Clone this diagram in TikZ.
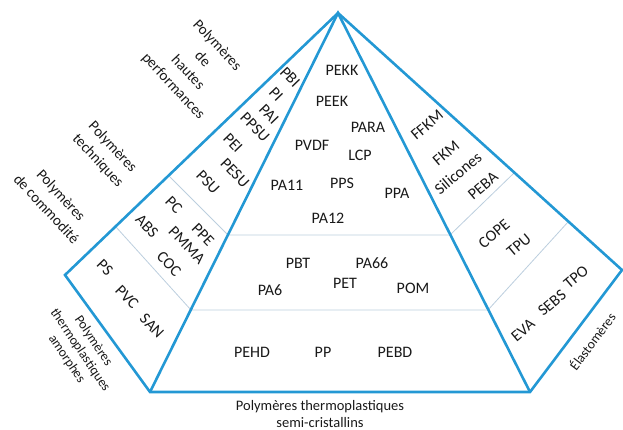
\documentclass[tikz,border=0pt]{standalone}
\usepackage{fontspec}
\setmainfont{Carlito}
\usetikzlibrary{calc}
\definecolor{pyrblue}{RGB}{35,152,212}
\definecolor{pyrthin}{RGB}{188,206,222}
\tikzset{
	frame/.style={draw=pyrblue,line width=2.6pt},
	split/.style={draw=pyrthin,line width=0.8pt},
	poly/.style={inner sep=0pt,text=black!90,font=\fontsize{16}{18}\selectfont},
	lpoly/.style={poly,rotate=-46},
	rpoly/.style={poly,rotate=40},
	family/.style={inner sep=0pt,text=black!90,align=center,font=\fontsize{15}{20}\selectfont}
}
\begin{document}
\begin{tikzpicture}[x=1pt,y=-1pt]
	\useasboundingbox (0,0) rectangle (623,430);
	
	\coordinate (apex) at (338,13);
	\coordinate (lc) at (65,275);
	\coordinate (bl) at (150,392);
	\coordinate (br) at (530,392);
	\coordinate (rc) at (622,270);
	
	\coordinate (a1) at (170,177);
	\coordinate (a2) at (116,227);
	\coordinate (m1) at (228,235);
	\coordinate (m2) at (191,310);
	\coordinate (n1) at (450,235);
	\coordinate (n2) at (488,310);
	\coordinate (e1) at (514,173);
	\coordinate (e2) at (568,222);
	
	\draw[split] (a1) -- (m1) -- (n1) -- (e1);
	\draw[split] (a2) -- (m2) -- (n2) -- (e2);
	\draw[frame] (apex) -- (lc) -- (bl) -- (br) -- (rc) -- cycle;
	\draw[frame] (bl) -- (apex) -- (br);
	
	\node[poly] (pekk) at (342,70) {PEKK};
	\node[poly] (peek) at (332,101) {PEEK};
	\node[poly] (para) at (368,127) {PARA};
	\node[poly] (pvdf) at (312,145) {PVDF};
	\node[poly] (lcp) at (360,155) {LCP};
	\node[poly] (pa11) at (287,185) {PA11};
	\node[poly] (pps) at (342,183) {PPS};
	\node[poly] (ppa) at (397,193) {PPA};
	\node[poly] (pa12) at (328,218) {PA12};
	
	\node[poly] (pbt) at (298,263) {PBT};
	\node[poly] (pa66) at (372,263) {PA66};
	\node[poly] (pet) at (345,283) {PET};
	\node[poly] (pa6) at (270,290) {PA6};
	\node[poly] (pom) at (413,288) {POM};
	
	\node[poly] (pehd) at (252,352) {PEHD};
	\node[poly] (pp) at (323,352) {PP};
	\node[poly] (pebd) at (395,352) {PEBD};
	
	\node[lpoly] (pbi) at (290,77) {PBI};
	\node[lpoly] (pi) at (276,94) {PI};
	\node[lpoly] (pai) at (269,114) {PAI};
	\node[lpoly] (ppsu) at (255,127) {PPSU};
	\node[lpoly] (pei) at (233,143) {PEI};
	\node[lpoly] (pesu) at (235,173) {PESU};
	\node[lpoly] (psu) at (208,182) {PSU};
	\node[lpoly] (pc) at (174,205) {PC};
	\node[lpoly] (ppe) at (203,235) {PPE};
	\node[lpoly] (abs) at (147,226) {ABS};
	\node[lpoly] (pmma) at (187,245) {PMMA};
	\node[lpoly] (coc) at (169,264) {COC};
	\node[lpoly] (ps) at (105,268) {PS};
	\node[lpoly] (pvc) at (127,297) {PVC};
	\node[lpoly] (san) at (152,326) {SAN};
	
	\node[rpoly] (ffkm) at (427,125) {FFKM};
	\node[rpoly] (fkm) at (446,153) {FKM};
	\node[rpoly] (silicones) at (458,173) {Silicones};
	\node[rpoly] (peba) at (483,186) {PEBA};
	\node[rpoly] (cope) at (494,234) {COPE};
	\node[rpoly] (tpu) at (519,245) {TPU};
	\node[rpoly] (eva) at (523,330) {EVA};
	\node[rpoly] (sebs) at (552,303) {SEBS};
	\node[rpoly] (tpo) at (576,277) {TPO};
	
	\node[family,rotate=-47] (perf) at (195,66) {Polymères\\de\\hautes\\performances};
	\node[family,rotate=-47] (tech) at (105,154) {Polymères\\techniques};
	\node[family,rotate=-47] (commod) at (54,202) {Polymères\\de commodité};
	\node[family,rotate=-56,font=\fontsize{13.5}{16}\selectfont] (amorph) at (80,350) {Polymères\\thermoplastiques\\amorphes};
	\node[family,rotate=53,font=\fontsize{13.5}{16}\selectfont] (elast) at (592,341) {Élastomères};
	\node[family,font=\fontsize{14.5}{16.5}\selectfont] (semi) at (320,414) {Polymères thermoplastiques\\semi-cristallins};
\end{tikzpicture}
\end{document}
